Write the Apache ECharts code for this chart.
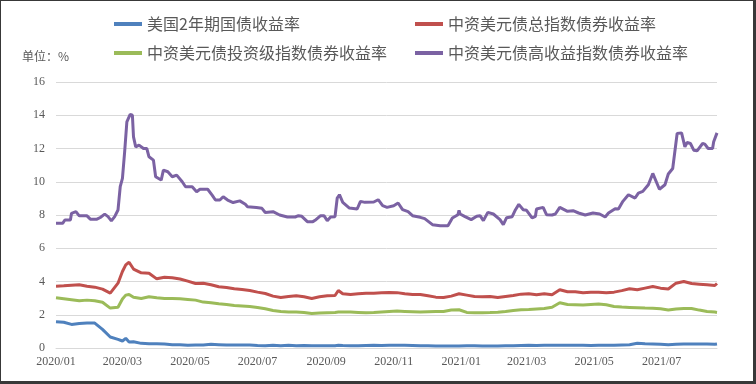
<!DOCTYPE html>
<html>
<head>
<meta charset="utf-8">
<script src="https://cdn.jsdelivr.net/npm/echarts@6/dist/echarts.min.js"></script>
<style>
  html, body { margin: 0; padding: 0; background: #ffffff; }
  #wrap { position: relative; width: 756px; height: 384px; }
  #chart { position: absolute; left: 0; top: 0; width: 756px; height: 384px; }
  #frame { position: absolute; left: 0; top: 0; width: 756px; height: 384px; box-sizing: border-box;
           border-style: solid; border-color: #383838; border-width: 1px 3px 3px 1px; pointer-events: none; }
</style>
</head>
<body>
<div id="wrap"><div id="chart"></div><div id="frame"></div></div>
<script>
// ---------------- data ----------------
const seriesNames = ['美国2年期国债收益率', '中资美元债总指数债券收益率', '中资美元债投资级指数债券收益率', '中资美元债高收益指数债券收益率'];
const unitLabel = '单位：%';
const xTickLabels = ['2020/01', '2020/03', '2020/05', '2020/07', '2020/09', '2020/11', '2021/01', '2021/03', '2021/05', '2021/07'];
const yTicks = [0, 2, 4, 6, 8, 10, 12, 14, 16];

const dates = [
  '2020-01-01','2020-01-08','2020-01-15','2020-01-22','2020-01-29','2020-02-05','2020-02-12','2020-02-19','2020-02-26',
  '2020-03-01','2020-03-04','2020-03-07','2020-03-11','2020-03-18','2020-03-25','2020-04-01','2020-04-08','2020-04-15',
  '2020-04-22','2020-04-29','2020-05-06','2020-05-13','2020-05-20','2020-05-27','2020-06-03','2020-06-10','2020-06-17',
  '2020-06-24','2020-07-01','2020-07-08','2020-07-15','2020-07-22','2020-07-29','2020-08-05','2020-08-12','2020-08-19',
  '2020-08-26','2020-09-02','2020-09-09','2020-09-12','2020-09-16','2020-09-23','2020-09-30','2020-10-07','2020-10-14',
  '2020-10-21','2020-10-28','2020-11-04','2020-11-11','2020-11-18','2020-11-25','2020-12-02','2020-12-09','2020-12-16',
  '2020-12-23','2020-12-30','2021-01-06','2021-01-13','2021-01-20','2021-01-27','2021-02-03','2021-02-10','2021-02-17',
  '2021-02-24','2021-03-03','2021-03-10','2021-03-17','2021-03-24','2021-03-31','2021-04-07','2021-04-14','2021-04-21',
  '2021-04-28','2021-05-05','2021-05-12','2021-05-19','2021-05-26','2021-06-02','2021-06-09','2021-06-16','2021-06-23',
  '2021-06-30','2021-07-07','2021-07-14','2021-07-21','2021-07-28','2021-08-04','2021-08-11','2021-08-18','2021-08-20'
];

const ust2y = [
  1.58,1.55,1.42,1.48,1.50,1.50,1.12,0.66,0.52,
  0.42,0.58,0.36,0.38,0.28,0.26,0.25,0.24,0.20,
  0.20,0.16,0.18,0.18,0.22,0.20,0.18,0.18,0.18,
  0.18,0.15,0.14,0.16,0.14,0.16,0.14,0.15,0.14,
  0.14,0.13,0.14,0.16,0.15,0.14,0.14,0.15,0.16,
  0.15,0.16,0.16,0.16,0.15,0.14,0.13,0.12,0.12,
  0.12,0.12,0.13,0.13,0.12,0.12,0.12,0.14,0.14,
  0.15,0.16,0.15,0.16,0.16,0.16,0.16,0.16,0.16,
  0.15,0.16,0.16,0.16,0.18,0.20,0.28,0.25,0.24,
  0.22,0.20,0.22,0.24,0.24,0.24,0.24,0.22,0.24
];

const totalIdx = [
  3.72,3.74,3.78,3.80,3.72,3.66,3.54,3.30,3.90,
  4.60,5.00,5.16,4.75,4.52,4.50,4.16,4.25,4.22,
  4.15,4.02,3.88,3.90,3.80,3.68,3.64,3.56,3.52,
  3.46,3.36,3.28,3.12,3.04,3.10,3.14,3.08,2.98,
  3.08,3.14,3.16,3.46,3.26,3.22,3.26,3.30,3.30,
  3.32,3.34,3.33,3.26,3.22,3.22,3.14,3.06,3.04,
  3.12,3.26,3.18,3.10,3.08,3.10,3.04,3.10,3.16,
  3.24,3.26,3.20,3.26,3.20,3.50,3.38,3.38,3.32,
  3.35,3.36,3.32,3.36,3.45,3.56,3.50,3.60,3.70,
  3.60,3.55,3.90,4.00,3.88,3.84,3.80,3.76,3.88
];

const igIdx = [
  3.02,2.96,2.90,2.84,2.88,2.84,2.75,2.40,2.45,
  2.95,3.18,3.22,3.05,2.98,3.08,3.02,2.98,2.98,
  2.96,2.92,2.88,2.76,2.72,2.66,2.62,2.56,2.53,
  2.50,2.44,2.36,2.26,2.20,2.17,2.16,2.14,2.08,
  2.10,2.12,2.14,2.16,2.16,2.16,2.14,2.12,2.14,
  2.17,2.20,2.22,2.20,2.18,2.16,2.18,2.20,2.20,
  2.28,2.30,2.14,2.12,2.12,2.13,2.15,2.20,2.26,
  2.30,2.32,2.35,2.38,2.45,2.72,2.62,2.60,2.58,
  2.62,2.64,2.60,2.50,2.46,2.44,2.42,2.40,2.39,
  2.36,2.28,2.34,2.38,2.38,2.28,2.20,2.16,2.14
];

const hyDates = [
  '2020-01-01','2020-01-07','2020-01-09','2020-01-14','2020-01-15','2020-01-19','2020-01-22','2020-01-29','2020-02-01',
  '2020-02-07','2020-02-10','2020-02-14','2020-02-17','2020-02-20','2020-02-23','2020-02-26','2020-02-28','2020-03-01',
  '2020-03-03','2020-03-05','2020-03-08','2020-03-10','2020-03-11','2020-03-13','2020-03-16','2020-03-20','2020-03-23',
  '2020-03-25','2020-03-29','2020-03-31','2020-04-05','2020-04-07','2020-04-11','2020-04-15','2020-04-19','2020-04-24',
  '2020-04-27','2020-05-03','2020-05-07','2020-05-10','2020-05-17','2020-05-21','2020-05-24','2020-05-28','2020-05-31',
  '2020-06-04','2020-06-09','2020-06-15','2020-06-20','2020-06-22','2020-06-30','2020-07-05','2020-07-08','2020-07-15',
  '2020-07-21','2020-07-28','2020-08-04','2020-08-07','2020-08-10','2020-08-15','2020-08-20','2020-08-22','2020-08-27',
  '2020-08-30','2020-09-02','2020-09-05','2020-09-09','2020-09-11','2020-09-13','2020-09-16','2020-09-22','2020-09-29',
  '2020-10-02','2020-10-06','2020-10-14','2020-10-18','2020-10-22','2020-10-26','2020-11-01','2020-11-05','2020-11-09',
  '2020-11-14','2020-11-18','2020-11-25','2020-11-29','2020-12-06','2020-12-13','2020-12-20','2020-12-24','2020-12-29',
  '2020-12-30','2020-12-31','2021-01-04','2021-01-10','2021-01-15','2021-01-18','2021-01-21','2021-01-25','2021-01-30',
  '2021-02-05','2021-02-08','2021-02-11','2021-02-16','2021-02-19','2021-02-22','2021-02-26','2021-03-01','2021-03-06',
  '2021-03-09','2021-03-10','2021-03-16','2021-03-19','2021-03-24','2021-03-27','2021-03-31','2021-04-07','2021-04-12',
  '2021-04-17','2021-04-23','2021-04-30','2021-05-06','2021-05-11','2021-05-14','2021-05-20','2021-05-23','2021-05-27',
  '2021-06-01','2021-06-07','2021-06-10','2021-06-14','2021-06-19','2021-06-23','2021-06-29','2021-07-04','2021-07-07',
  '2021-07-11','2021-07-15','2021-07-19','2021-07-22','2021-07-24','2021-07-27','2021-07-30','2021-08-02','2021-08-07',
  '2021-08-09','2021-08-12','2021-08-16','2021-08-17','2021-08-20'
];

const hyIdx = [
  7.50,7.50,7.70,7.70,8.10,8.20,7.95,7.95,7.75,
  7.75,7.85,8.05,7.90,7.65,7.90,8.30,9.70,10.20,
  11.80,13.60,14.05,14.00,12.70,12.10,12.20,12.00,12.00,
  11.50,11.30,10.30,10.10,10.70,10.60,10.30,10.40,10.00,
  9.70,9.70,9.40,9.55,9.55,9.20,8.90,8.90,9.10,
  8.90,8.75,8.85,8.65,8.50,8.45,8.40,8.15,8.20,
  8.00,7.88,7.88,7.96,7.92,7.60,7.60,7.68,7.96,
  7.96,7.66,7.88,7.90,9.02,9.22,8.76,8.42,8.36,
  8.82,8.76,8.78,8.92,8.56,8.46,8.56,8.72,8.32,
  8.20,7.96,7.86,7.78,7.42,7.36,7.36,7.82,8.02,
  8.28,8.06,7.92,7.72,7.92,7.96,7.66,8.16,8.06,
  7.72,7.42,7.84,7.90,8.32,8.64,8.32,8.28,7.82,
  7.92,8.36,8.46,8.02,8.00,8.06,8.46,8.22,8.26,
  8.12,8.00,8.12,8.06,7.88,8.12,8.38,8.36,8.82,
  9.22,9.02,9.32,9.42,9.82,10.50,9.55,9.82,10.47,
  10.80,12.90,12.94,12.10,12.36,12.30,11.90,11.86,12.30,
  12.26,12.00,12.00,12.40,12.94
];

const colors = ['#4F81BD', '#C0504D', '#9BBB59', '#7B62A3'];

// ---------------- chart ----------------
function parseDay(s) { const p = s.split('-').map(Number); return Date.UTC(p[0], p[1] - 1, p[2]); }
function parseMonth(s) { const p = s.split('/').map(Number); return Date.UTC(p[0], p[1] - 1, 1); }
function pairs(ds, vs) { return ds.map((d, i) => [parseDay(d), vs[i]]); }

const tickValues = xTickLabels.map(parseMonth);
const labelFont = 'Liberation Serif, DejaVu Serif, serif';
const cjkFont = 'Noto Sans CJK SC, sans-serif';

const chart = echarts.init(document.getElementById('chart'), null, { renderer: 'canvas' });

const legendCommon = {
  padding: 0, itemWidth: 28, itemHeight: 4, icon: 'rect', itemGap: 0,
  textStyle: { fontSize: 16, color: '#595959', fontFamily: cjkFont, fontWeight: 'normal' }
};

chart.setOption({
  animation: false,
  backgroundColor: '#ffffff',
  color: colors,
  title: {
    text: unitLabel, left: 22, top: 50, padding: 0,
    textStyle: { fontSize: 12, fontWeight: 'normal', color: '#595959', fontFamily: cjkFont }
  },
  legend: [
    Object.assign({ data: [seriesNames[0]], left: 114, top: 16 }, legendCommon),
    Object.assign({ data: [seriesNames[1]], left: 415, top: 16 }, legendCommon),
    Object.assign({ data: [seriesNames[2]], left: 114, top: 45 }, legendCommon),
    Object.assign({ data: [seriesNames[3]], left: 415, top: 45 }, legendCommon)
  ],
  grid: { left: 56, right: 39, top: 82, bottom: 36, containLabel: false },
  xAxis: {
    type: 'value',
    min: parseDay(dates[0]),
    max: parseDay(dates[dates.length - 1]),
    axisLine: { show: true, lineStyle: { color: '#d9d9d9', width: 1 } },
    axisTick: { show: false },
    splitLine: { show: false },
    axisLabel: {
      customValues: tickValues,
      margin: 8,
      color: '#595959',
      fontSize: 12,
      fontFamily: labelFont,
      hideOverlap: false,
      formatter: function (v) {
        const i = tickValues.indexOf(v);
        return i >= 0 ? xTickLabels[i] : '';
      }
    }
  },
  yAxis: {
    type: 'value',
    min: yTicks[0],
    max: yTicks[yTicks.length - 1],
    interval: yTicks[1] - yTicks[0],
    axisLine: { show: false },
    axisTick: { show: false },
    splitLine: { show: true, lineStyle: { color: '#d9d9d9', width: 1 } },
    axisLabel: { margin: 11, color: '#595959', fontSize: 12, fontFamily: labelFont }
  },
  series: [
    { name: seriesNames[0], type: 'line', data: pairs(dates, ust2y), showSymbol: false, lineStyle: { width: 3 } },
    { name: seriesNames[1], type: 'line', data: pairs(dates, totalIdx), showSymbol: false, lineStyle: { width: 3 } },
    { name: seriesNames[2], type: 'line', data: pairs(dates, igIdx), showSymbol: false, lineStyle: { width: 3 } },
    { name: seriesNames[3], type: 'line', data: pairs(hyDates, hyIdx), showSymbol: false, lineStyle: { width: 3 } }
  ]
});
</script>
</body>
</html>
